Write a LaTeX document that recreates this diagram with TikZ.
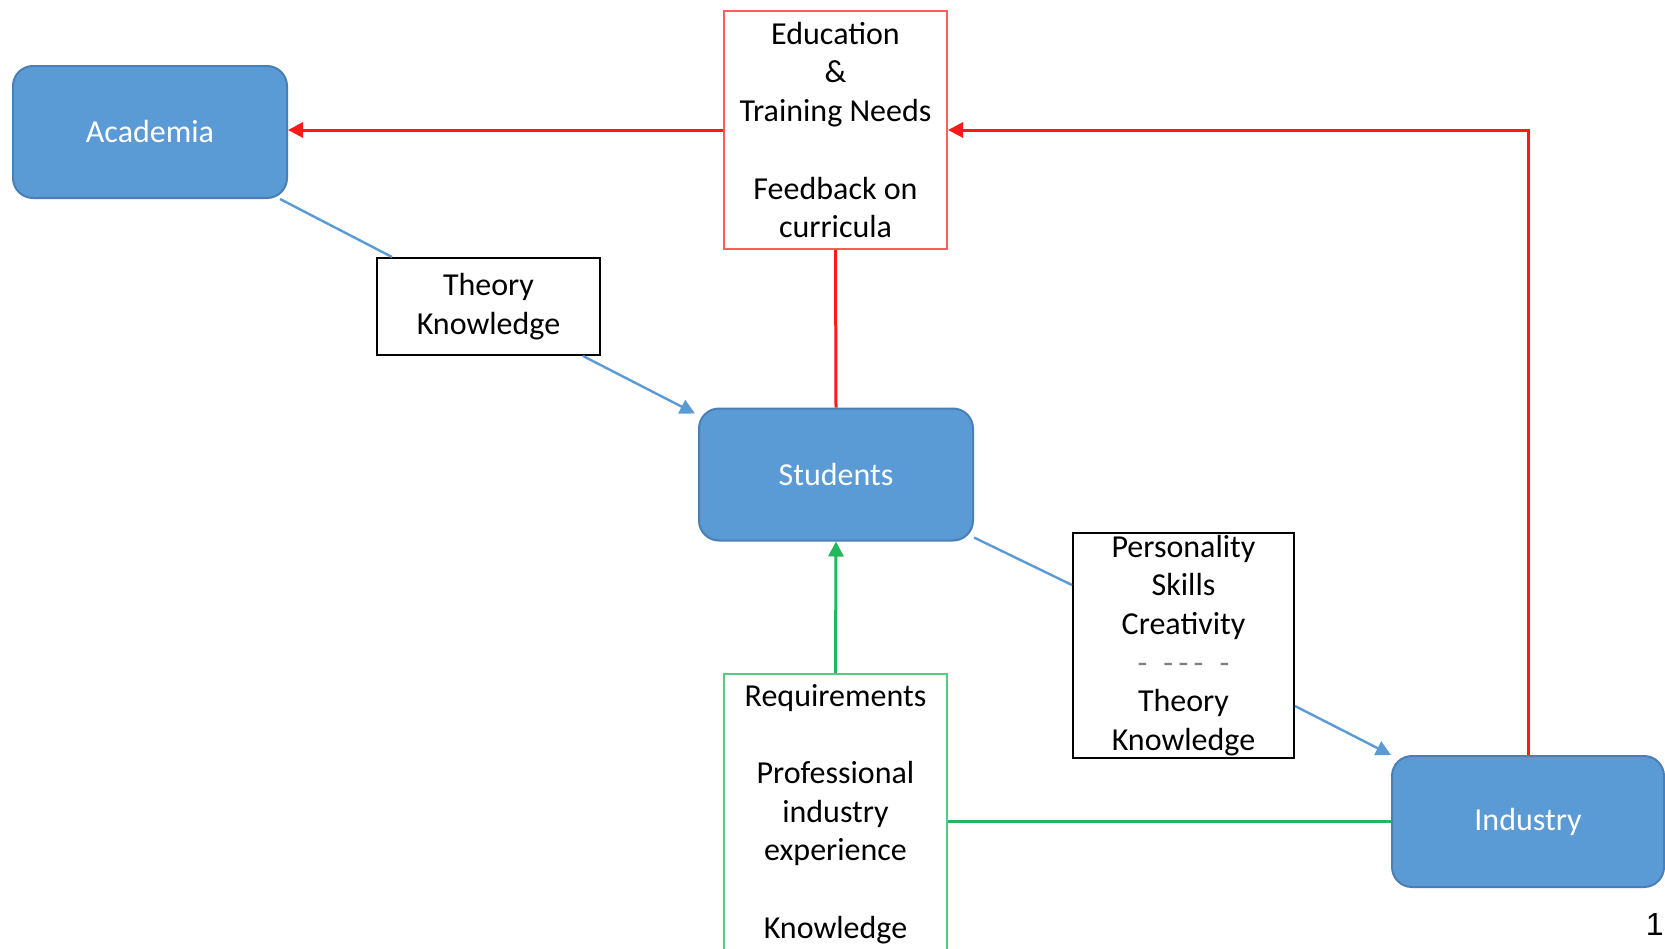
\documentclass[tikz,border=0pt]{standalone}
\usepackage{fontspec}
\setmainfont{Carlito}
\newfontfamily\pagefont{Liberation Sans}
\usetikzlibrary{arrows.meta}
\definecolor{boxblue}{HTML}{5B9BD5}
\definecolor{boxedge}{HTML}{4A7FB5}
\definecolor{linered}{HTML}{FF1A1A}
\definecolor{edgered}{HTML}{FF5C5C}
\definecolor{linegreen}{HTML}{1FB85A}
\definecolor{edgegreen}{HTML}{55CC80}
\definecolor{lineblue}{HTML}{5B9BD5}
\begin{document}
\begin{tikzpicture}[x=0.5pt,y=-0.5pt,
	every node/.style={font=\fontsize{16}{19.35}\selectfont, align=center, inner sep=0pt},
	actor/.style={draw=boxedge, line width=1pt, fill=boxblue, rounded corners=10pt, text=white, minimum width=137pt, minimum height=66pt},
	note/.style={draw, line width=1pt, minimum width=111.5pt},
	redline/.style={draw=linered, line width=1.5pt},
	greenline/.style={draw=linegreen, line width=1.5pt},
	blueline/.style={draw=lineblue, line width=1.2pt},
	tip/.style={-{Triangle[length=7.5pt,width=7.5pt]}}]
					\clip (0,0) rectangle (1665,948);
					\fill[white] (0,0) rectangle (1665,948);
					% the three parties
					\node[actor] (acad) at (150,132){Academia};
					\node[actor] (stud) at (836,474.5){Students};
					\node[actor, minimum width=136pt, minimum height=65.5pt] (ind) at (1528,821.5){Industry};
					% the notes
					\node[note, draw=edgered, minimum height=119pt] (edu) at (835.5,130){Education\\\&\\Training Needs\\[19.35pt]Feedback on\\curricula};
					\node[note, minimum height=48.5pt] (theory) at (488.5,306.5){Theory\\Knowledge};
					\node[note, minimum width=110.5pt, minimum height=112.5pt] (pers) at (1183.5,645.5){Personality\\Skills\\Creativity\\{\color{gray}-\enspace-\,-\,-\enspace-}\\Theory\\Knowledge};
					\node[note, draw=edgegreen, anchor=north, inner ysep=5pt, text depth=40pt] (req) at (835.5,673){Requirements\\[19.35pt]Professional\\industry\\experience\\[19.35pt]Knowledge};
					\node[font=\pagefont\fontsize{16}{19}\selectfont, anchor=east] (pgno) at (1664,924){1};
					% feedback
					\draw[redline, tip] (edu.west) -- (edu.west -| acad.east);
					\draw[redline, tip] (ind.north) |- (edu.east);
					\draw[redline] (edu.south) -- (stud.north);
					% requirements
					\draw[greenline, tip] (req.north) -- (stud.south);
					\draw[greenline] (req.east |- ind.west) -- (ind.west);
					% knowledge flow
					\draw[blueline] ([xshift=-4pt]acad.south east) -- ([xshift=8pt]theory.north west);
					\draw[blueline, tip] ([xshift=-9pt]theory.south east) -- ([xshift=-1.5pt,yshift=-3pt]stud.north west);
					\draw[blueline] ([yshift=2pt]stud.south east) -- ([yshift=-26.5pt]pers.north west);
					\draw[blueline, tip] ([yshift=26.5pt]pers.south east) -- (ind.north west);
					\end{tikzpicture}
\end{document}
